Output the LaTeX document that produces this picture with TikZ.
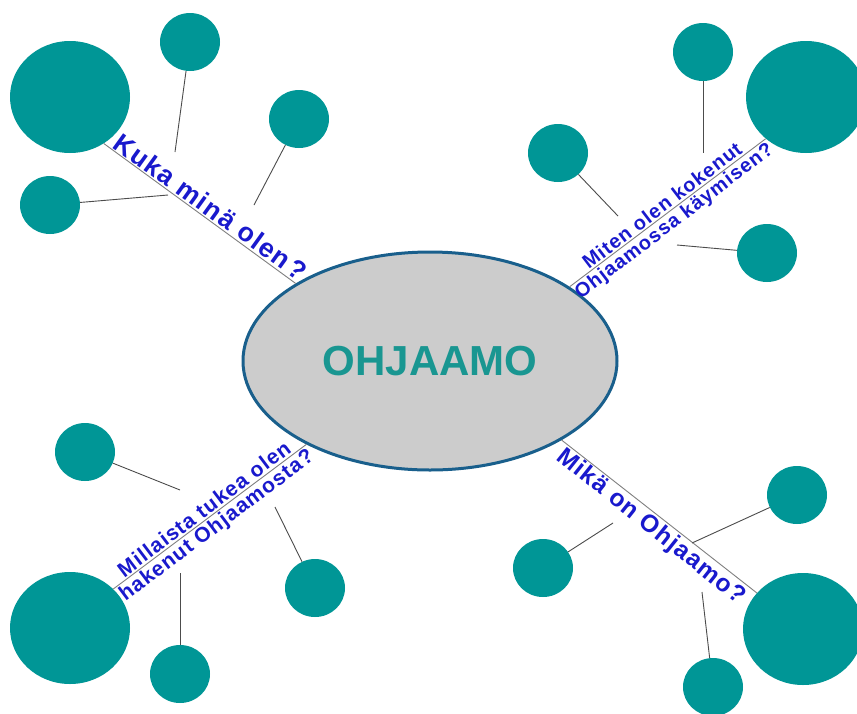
\documentclass[tikz,border=0pt]{standalone}
\usepackage{fontspec}
\setmainfont{Liberation Sans}
\newfontfamily\qfont[LetterSpace=5]{Liberation Sans}
\usetikzlibrary{shapes.geometric,calc}
\definecolor{tealc}{RGB}{0,150,150}
\definecolor{qblue}{RGB}{25,25,205}
\definecolor{ohj}{RGB}{25,150,145}
\definecolor{rim}{RGB}{25,95,140}
\definecolor{ellfill}{RGB}{204,204,204}
\begin{document}
\begin{tikzpicture}[x=1pt,y=-1pt,
  bigc/.style={ellipse,fill=tealc,minimum width=120pt,minimum height=112pt,inner sep=0pt},
  smallc/.style={ellipse,fill=tealc,minimum width=60pt,minimum height=58pt,inner sep=0pt},
  mainline/.style={draw=black!50,line width=0.9pt},
  twig/.style={draw=black!70,line width=0.9pt},
  qtext/.style={text=qblue,inner sep=2pt},
  qbig/.style={qtext,font=\qfont\bfseries\fontsize{26.5}{29}\selectfont},
  qmid/.style={qtext,font=\qfont\bfseries\fontsize{24.5}{27}\selectfont},
  qtwo/.style={qtext,font=\qfont\bfseries\fontsize{19.8}{22}\selectfont},
  qthree/.style={qtext,font=\qfont\bfseries\fontsize{21}{23}\selectfont}
]
\useasboundingbox (0,0) rectangle (857,713);
\fill[white] (0,0) rectangle (857,713);

% centre
\node[ellipse,draw=rim,line width=3pt,fill=ellfill,minimum width=374pt,minimum height=218pt,
      text=ohj,font=\bfseries\fontsize{42}{46}\selectfont] (ell) at (430,361) {OHJAAMO};

% big circles
\node[bigc] (b1) at (70,97) {};
\node[bigc] (b2) at (806,97) {};
\node[bigc] (b3) at (70,628) {};
\node[bigc] (b4) at (803,629) {};

% small circles
\node[smallc] (s1) at (190,42) {};
\node[smallc] (s2) at (299,119) {};
\node[smallc] (s3) at (50,205) {};
\node[smallc] (s4) at (703,52) {};
\node[smallc] (s5) at (558,153) {};
\node[smallc] (s6) at (767,253) {};
\node[smallc] (s7) at (85,452) {};
\node[smallc] (s8) at (315,588) {};
\node[smallc] (s9) at (180,674) {};
\node[smallc] (s10) at (797,495) {};
\node[smallc] (s11) at (543,568) {};
\node[smallc] (s12) at (713,687) {};

% main lines
\draw[mainline] (b1.-54) -- (ell.150.3);
\draw[mainline] (b2.-134) -- (ell.28.5);
\draw[mainline] (b3.42) -- (ell.214.1);
\draw[mainline] (b4.142) -- (ell.-31.3);

% free ends of twigs
\coordinate (p1) at (175,152);
\coordinate (p2) at (254,205);
\coordinate (p3) at (168,195);
\coordinate (p4) at (703,153);
\coordinate (p5) at (618,216);
\coordinate (p6) at (677,245);
\coordinate (p7) at (180,490);
\coordinate (p8) at (275,507);
\coordinate (p9) at (180,573);
\coordinate (p10) at (692,543);
\coordinate (p11) at (613,523);
\coordinate (p12) at (702,592);
\foreach \i in {1,...,12} {\draw[twig] (s\i) -- (p\i);}

% questions
\node[qbig,rotate=-35.8,anchor=south] (t1) at ($(b1.-54)!0.52!(ell.150.3)$) {Kuka minä olen\hspace{0.12em}?};
\node[qtwo,rotate=37.3,anchor=south] (t2a) at ($(b2.-134)!0.5!(ell.28.5)$) {Miten olen kokenut};
\node[qtwo,rotate=37.3,anchor=north] (t2b) at ($(b2.-134)!0.5!(ell.28.5)$) {Ohjaamossa käymisen?};
\node[qthree,rotate=37,anchor=south] (t3a) at ($(b3.42)!0.5!(ell.214.1)$) {Millaista tukea olen};
\node[qthree,rotate=37,anchor=north] (t3b) at ($(b3.42)!0.5!(ell.214.1)$) {hakenut Ohjaamosta?};
\node[qmid,rotate=-38.6,anchor=north] (t4) at ($(b4.142)!0.5!(ell.-31.3)$) {Mikä on Ohjaamo?};
\end{tikzpicture}
\end{document}
